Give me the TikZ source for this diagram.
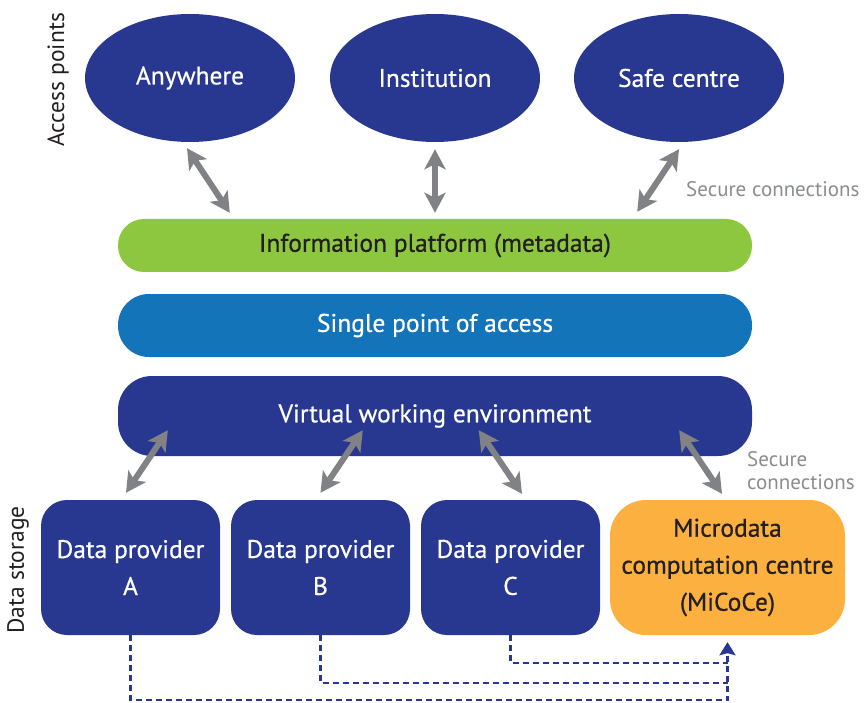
\documentclass[tikz,border=0pt]{standalone}
\usepackage{fontspec}
\setmainfont{PT Sans}
\newfontfamily\boxface{PT Sans}[FakeBold=0.6]
\usetikzlibrary{shapes.geometric}
\usetikzlibrary{arrows.meta}
\usetikzlibrary{calc}
\usetikzlibrary{positioning}

\definecolor{navy}{HTML}{283891}
\definecolor{leaf}{HTML}{8DC63F}
\definecolor{ocean}{HTML}{1374BA}
\definecolor{amber}{HTML}{FBB040}
\definecolor{arrowgray}{HTML}{808285}
\definecolor{inkdark}{HTML}{231F20}
\definecolor{softgray}{HTML}{8A8C8E}

\tikzset{
  boxfont/.style={font=\boxface\fontsize{25.5}{37}\selectfont},
  access/.style={ellipse, fill=navy, text=white, boxfont, minimum width=210pt, minimum height=128pt, inner sep=0pt},
  bar/.style={rectangle, text=white, boxfont, minimum width=634pt, inner sep=0pt},
  provider/.style={rectangle, fill=navy, text=white, boxfont, align=center, minimum width=179pt, minimum height=135pt, rounded corners=26pt, inner sep=0pt},
  sidelabel/.style={rotate=90, text=inkdark, font=\fontsize{23.5}{26}\selectfont},
  securetext/.style={text=softgray, font=\fontsize{21}{23}\selectfont, inner sep=0pt},
  secure/.style={draw=arrowgray, line width=6pt, {Stealth[length=20pt,width=21pt,inset=5pt]}-{Stealth[length=20pt,width=21pt,inset=5pt]}},
  datalink/.style={draw=navy, line width=2.5pt, dash pattern=on 6pt off 4pt}
}

\begin{document}
\begin{tikzpicture}[x=1pt,y=-1pt]
  \useasboundingbox (0,0) rectangle (867,703);

  % Access points
  \foreach \n/\x/\t in {any/190/Anywhere, inst/435/Institution, safe/679/Safe centre}
    \node[access] (\n) at (\x,78) {\t};
  \node[sidelabel] (aplabel) at (58,80) {Access points};

  % Platform layers
  \node[bar, fill=leaf, text=inkdark, minimum height=53pt, rounded corners=26pt] (info) at (435,245.5) {Information platform (metadata)};
  \node[bar, fill=ocean, minimum height=63pt, rounded corners=31pt] (spoa) at (435,325.5) {Single point of access};
  \node[bar, fill=navy, minimum height=80pt, rounded corners=34pt] (venv) at (435,416) {Virtual working environment};

  % Data storage
  \foreach \n/\x in {A/130.5, B/320.5, C/510.5}
    \node[provider] (dp\n) at (\x,567.5) {Data provider\\\n};
  \node[provider, fill=amber, text=inkdark, minimum width=235pt, rounded corners=36pt] (micoce) at (727.5,567.5) {Microdata\\computation centre\\(MiCoCe)};
  \node[sidelabel] (dslabel) at (18,570) {Data storage};

  % Secure connections
  \draw[secure] ($(any.south)+(-3,6)$) -- ($(info.north west)+(112,-6)$);
  \draw[secure] ($(inst.south)+(0,7)$) -- ($(info.north)+(0,-6)$);
  \draw[secure] ($(safe.south)+(0,7)$) -- ($(info.north east)+(-115,-7)$);
  \node[securetext, anchor=west] (sec1) at (686,189) {Secure connections};

  \draw[secure] ($(venv.south west)+(50,-26)$) -- ($(dpA.north)+(-4.5,-7)$);
  \draw[secure] ($(venv.south west)+(245,-26)$) -- ($(dpB.north)+(0,-7)$);
  \draw[secure] ($(venv.south west)+(361,-26)$) -- ($(dpC.north)+(11.5,-6)$);
  \draw[secure] ($(venv.south east)+(-73,-26)$) -- ($(micoce.north)+(-5.5,-6)$);
  \node[securetext, anchor=west, align=left] (sec2) at (747,471) {Secure\\connections};

  % Links to the computation centre
  \coordinate (join) at ($(micoce.south)+(0,7)$);
  \draw[datalink, -{Stealth[length=13pt,width=16pt,inset=2pt]}] (dpA.south) -- ++(0,65) -| (join);
  \draw[datalink] (dpB.south) -- ++(0,48) coordinate (bturn) -- (bturn -| join);
  \draw[datalink] (dpC.south) -- ++(0,28) coordinate (cturn) -- (cturn -| join);
\end{tikzpicture}
\end{document}
